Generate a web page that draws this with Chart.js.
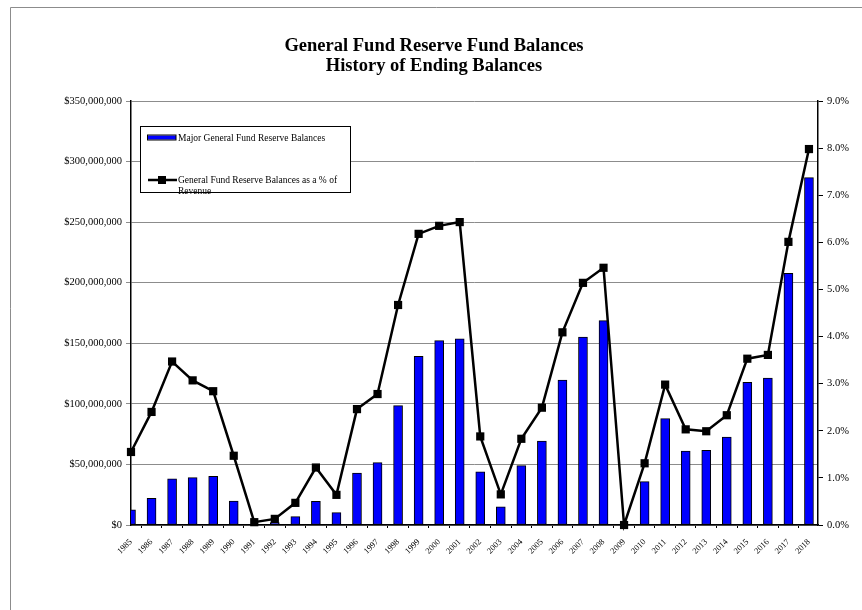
<!DOCTYPE html>
<html>
<head>
<meta charset="utf-8">
<title>General Fund Reserve Fund Balances</title>
<script src="https://cdn.jsdelivr.net/npm/chart.js@4.4.1/dist/chart.umd.min.js"></script>
<style>
  html, body { margin: 0; padding: 0; background: #fff; }
  #wrap { width: 862px; height: 610px; position: relative; }
</style>
</head>
<body>
<div id="wrap"><canvas id="chart" width="862" height="610"></canvas></div>
<script>
// Fiscal years shown on the category axis
const years = [1985, 1986, 1987, 1988, 1989, 1990, 1991, 1992, 1993, 1994,
               1995, 1996, 1997, 1998, 1999, 2000, 2001, 2002, 2003, 2004,
               2005, 2006, 2007, 2008, 2009, 2010, 2011, 2012, 2013, 2014,
               2015, 2016, 2017, 2018];

// Major General Fund reserve ending balances (dollars)
const reserveBalances = [12500000, 22000000, 38200000, 39100000, 40200000, 19800000,
                         0, 2000000, 6900000, 19500000, 10200000, 42900000,
                         51500000, 98500000, 139200000, 152200000, 153600000, 43800000,
                         14900000, 49000000, 69300000, 119700000, 155200000, 168700000,
                         0, 35800000, 87800000, 61100000, 61600000, 72600000,
                         117800000, 121300000, 207800000, 286700000];

// Reserve balances as a percent of revenue
const reservePercent = [1.55, 2.40, 3.47, 3.07, 2.84, 1.47,
                        0.06, 0.13, 0.47, 1.22, 0.64, 2.46,
                        2.78, 4.67, 6.18, 6.35, 6.43, 1.88,
                        0.65, 1.83, 2.49, 4.09, 5.14, 5.46,
                        0.00, 1.31, 2.98, 2.03, 1.99, 2.33,
                        3.53, 3.61, 6.01, 7.98];

const titleLines = ['General Fund Reserve Fund Balances', 'History of Ending Balances'];
const legendLabels = ['Major General Fund Reserve Balances',
                      ['General Fund Reserve Balances as a % of', 'Revenue']];

const SERIF = "'Liberation Serif', 'Times New Roman', Times, serif";

// Frame, title and in-plot legend
const decorations = {
  id: 'decorations',
  beforeDraw(chart) {
    const ctx = chart.ctx;
    ctx.save();
    ctx.fillStyle = '#fff';
    ctx.fillRect(0, 0, chart.width, chart.height);
    ctx.strokeStyle = '#8c8c8c';
    ctx.lineWidth = 1;
    ctx.beginPath();
    ctx.moveTo(10.5, chart.height);
    ctx.lineTo(10.5, 7.5);
    ctx.lineTo(chart.width, 7.5);
    ctx.stroke();

    ctx.fillStyle = '#000';
    ctx.font = 'bold 18.5px ' + SERIF;
    ctx.textAlign = 'center';
    ctx.textBaseline = 'alphabetic';
    ctx.fillText(titleLines[0], 434, 51);
    ctx.fillText(titleLines[1], 434, 71);
    ctx.restore();
  },
  afterDatasetsDraw(chart) {
    const ctx = chart.ctx;
    ctx.save();
    // legend box
    const bx = 140.5, by = 126.5, bw = 210, bh = 66;
    ctx.fillStyle = '#fff';
    ctx.fillRect(bx, by, bw, bh);
    ctx.strokeStyle = '#000';
    ctx.lineWidth = 1;
    ctx.strokeRect(bx, by, bw, bh);

    // bar swatch
    ctx.fillStyle = '#0000ff';
    ctx.fillRect(148, 135.5, 28, 4);
    ctx.strokeStyle = '#000';
    ctx.strokeRect(147.5, 135, 28.5, 5);

    // line swatch
    ctx.strokeStyle = '#000';
    ctx.lineWidth = 2.5;
    ctx.beginPath();
    ctx.moveTo(148, 180);
    ctx.lineTo(177, 180);
    ctx.stroke();
    ctx.fillStyle = '#000';
    ctx.fillRect(158, 176, 8, 8);

    ctx.font = '9.5px ' + SERIF;
    ctx.textAlign = 'left';
    ctx.textBaseline = 'middle';
    ctx.fillText(legendLabels[0], 178, 138);
    ctx.fillText(legendLabels[1][0], 178, 180);
    ctx.fillText(legendLabels[1][1], 178, 191);
    ctx.restore();
  }
};

const money = v => '$' + Math.round(v).toLocaleString('en-US');

new Chart(document.getElementById('chart'), {
  data: {
    datasets: [
      {
        type: 'line',
        label: legendLabels[1].join(' '),
        data: years.map((y, i) => ({ x: y, y: reservePercent[i] })),
        yAxisID: 'y1',
        borderColor: '#000',
        backgroundColor: '#000',
        borderWidth: 2.5,
        pointStyle: 'rect',
        pointRadius: 5.8,
        pointBorderWidth: 0,
        pointBackgroundColor: '#000',
        tension: 0,
        clip: false,
        order: 0
      },
      {
        type: 'bar',
        label: legendLabels[0],
        data: years.map((y, i) => ({ x: y, y: reserveBalances[i] })),
        yAxisID: 'y',
        backgroundColor: '#0000ff',
        borderColor: '#000',
        borderWidth: 1,
        borderSkipped: false,
        barThickness: 9,
        clip: 0,
        order: 1
      }
    ]
  },
  options: {
    responsive: false,
    animation: false,
    events: [],
    layout: { padding: { top: 101, left: 0, right: 0, bottom: 0 } },
    plugins: {
      legend: { display: false },
      title: { display: false },
      tooltip: { enabled: false }
    },
    scales: {
      x: {
        type: 'linear',
        min: 1985,
        max: 2018.44,
        offset: false,
        afterFit: s => { s.height = 85; },
        border: { display: true, color: '#000', width: 1.5 },
        grid: { drawOnChartArea: false, drawTicks: true, tickLength: 3, color: '#000', lineWidth: 1 },
        ticks: {
          stepSize: 1,
          includeBounds: false,
          autoSkip: false,
          minRotation: 45,
          maxRotation: 45,
          padding: 9,
          color: '#000',
          font: { family: SERIF, size: 8.5 },
          callback: v => String(v)
        }
      },
      y: {
        position: 'left',
        min: 0,
        max: 350000000,
        afterFit: s => { s.width = 131; },
        border: { display: true, color: '#000', width: 1.5 },
        grid: { color: '#8c8c8c', lineWidth: 1, tickLength: 5, drawTicks: true },
        ticks: {
          stepSize: 50000000,
          padding: 4,
          color: '#000',
          font: { family: SERIF, size: 10.5 },
          callback: v => money(v)
        }
      },
      y1: {
        position: 'right',
        min: 0,
        max: 9,
        afterFit: s => { s.width = 44; },
        border: { display: true, color: '#000', width: 1.5 },
        grid: { drawOnChartArea: false, color: '#000', tickLength: 5, drawTicks: true },
        ticks: {
          stepSize: 1,
          padding: 4,
          color: '#000',
          font: { family: SERIF, size: 10.5 },
          callback: v => v.toFixed(1) + '%'
        }
      }
    }
  },
  plugins: [decorations]
});
</script>
</body>
</html>
